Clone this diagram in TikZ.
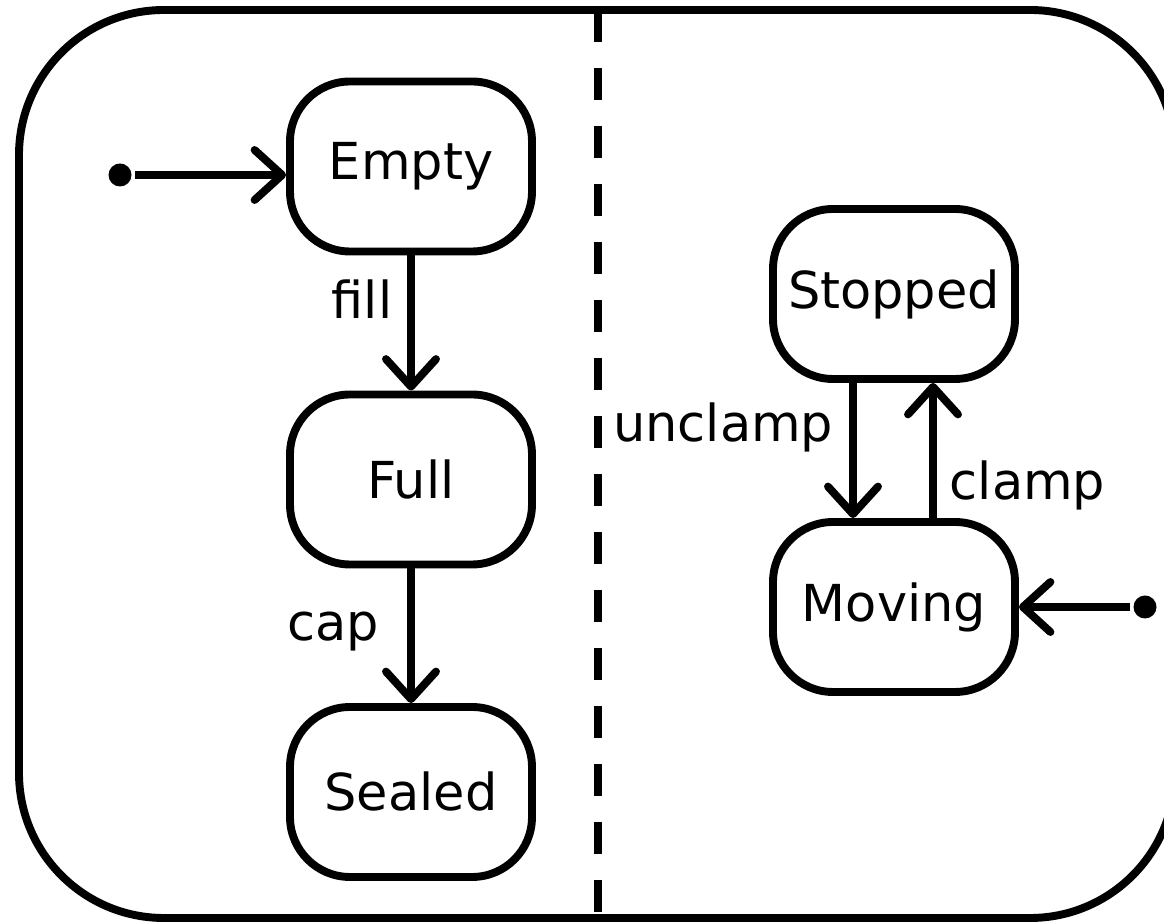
\documentclass[tikz,border=0pt]{standalone}
\usepackage{fontspec}
\setmainfont{DejaVu Sans}
\usetikzlibrary{arrows.meta}
\begin{document}
\begin{tikzpicture}[line width=4.5pt,font=\fontsize{29}{34}\selectfont,
        state/.style={draw, rounded corners=1.2cm, minimum width=4.84cm, minimum height=3.4cm, inner sep=0pt},
        trans/.style={-{Straight Barb[length=5.5mm,width=10mm,round]}},
        start/.style={circle, fill, inner sep=0pt, minimum size=4.6mm}]
        \useasboundingbox (0,0) rectangle (23.28,18.44);
        \draw [rounded corners=2.9cm] (0.38,0.08) rectangle (23.5,18.24);
        \draw [dash pattern=on 0.64cm off 0.52cm] (11.96,18.24) -- (11.96,0.08);
        % bottle
        \node [state] (empty) at (8.22,15.11) {Empty};
        \node [state] (full) at (8.22,8.85) {Full};
        \node [state] (sealed) at (8.22,2.6) {Sealed};
        \node [start] (init1) at (2.4,14.94) {};
        \draw [trans] (init1) -- (empty.west |- init1);
        \draw [trans] (empty) -- node [left, pos=0.32, xshift=-0.18cm] {fill} (full);
        \draw [trans] (full) -- node [left, pos=0.47, xshift=-0.44cm] {cap} (sealed);
        % conveyor
        \node [state] (stopped) at (17.88,12.56) {Stopped};
        \node [state] (moving) at (17.88,6.3) {Moving};
        \node [start] (init2) at (22.9,6.3) {};
        \draw [trans] (init2) -- (moving);
        \draw [trans] ([xshift=-0.82cm]stopped.south) -- node [left, pos=0.33, xshift=-0.2cm] {unclamp} ([xshift=-0.82cm]moving.north);
        \draw [trans] ([xshift=0.78cm]moving.north) -- node [right, pos=0.24, xshift=0.14cm] {clamp} ([xshift=0.78cm]stopped.south);
\end{tikzpicture}
\end{document}
